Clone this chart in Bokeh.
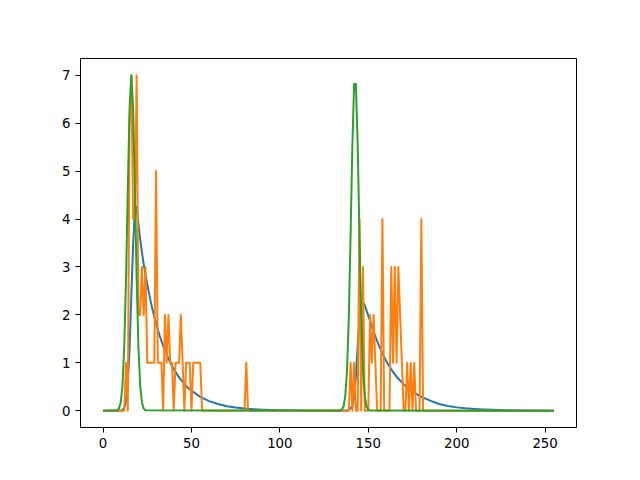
from bokeh.plotting import figure
from bokeh.models import Range1d, FixedTicker
from bokeh.embed import file_html
from bokeh.resources import INLINE

# ---- data ----
blue_x = [0, 10, 11, 12, 13, 14, 15, 16, 17, 18, 19, 20,
          21, 22, 23, 24, 25, 26, 27, 28, 29, 30, 31, 32, 33, 34, 35, 36, 37, 38, 39, 40,
          42, 44, 46, 48, 50,
          55, 60, 65, 70, 75, 80, 85, 90, 95, 100,
          110, 120, 130,
          138, 139, 140, 141, 142, 143, 144, 145, 146, 147, 148, 149, 150, 151, 152, 153,
          154, 155, 156, 157, 158, 159, 160,
          162, 164, 166, 168, 170, 172, 175,
          180, 185, 190, 195, 200, 205, 210, 215, 220,
          230, 240, 255]
blue_y = [0, 0, 0.02, 0.06, 0.2, 0.55, 1.3, 2.4, 3.45, 4.2, 4.25, 3.9,
          3.58, 3.3, 3.06, 2.84, 2.64, 2.45, 2.27, 2.11, 1.96, 1.82, 1.69, 1.57, 1.46, 1.35,
          1.26, 1.17, 1.08, 1.01, 0.93, 0.87,
          0.75, 0.65, 0.56, 0.48, 0.42,
          0.29, 0.20, 0.14, 0.095, 0.066, 0.045, 0.031, 0.022, 0.015, 0.010,
          0.005, 0.002, 0.001,
          0.003, 0.02, 0.05, 0.1, 0.28, 0.72, 1.35, 1.9, 2.2, 2.27, 2.2, 2.09, 1.98, 1.88,
          1.76, 1.65, 1.55, 1.45, 1.36, 1.28, 1.2, 1.12, 1.05,
          0.92, 0.81, 0.71, 0.63, 0.55, 0.48, 0.40,
          0.29, 0.21, 0.14, 0.10, 0.07, 0.05, 0.036, 0.026, 0.019,
          0.010, 0.005, 0.002]

orange_burst1 = [0, 1, 0, 6, 7, 4, 4, 7, 2, 2, 3, 2, 3, 1, 1, 1, 1, 1, 5, 1,
                 1, 1, 0, 2, 1, 2, 1, 1, 0, 1, 1, 1, 2, 1, 0, 1, 1, 1, 0, 1,
                 1, 1, 1, 1, 0]                      # x = 12 .. 56
orange_blip = [0, 1, 0]                              # x = 80 .. 82
orange_burst2 = [0, 0, 1, 0, 1, 0, 0, 4, 0, 3, 0, 0, 0, 2, 1, 2, 1, 0, 0, 0,
                 4, 0, 0, 0, 0, 3, 1, 3, 1, 3, 2, 1, 0, 0, 1, 0, 1, 0, 1, 0,
                 0, 0, 4, 0]                         # x = 138 .. 181
orange_x = [0] + list(range(12, 57)) + [80, 81, 82] + list(range(138, 182)) + [255]
orange_y = [0] + orange_burst1 + orange_blip + orange_burst2 + [0]

green_peak1 = [0.009, 0.044, 0.17, 0.53, 1.34, 2.76, 4.63, 6.31, 7.0, 6.31, 4.63,
               2.76, 1.34, 0.53, 0.17, 0.044, 0.009]  # x = 8 .. 24
green_peak2 = [0.004, 0.021, 0.089, 0.31, 0.86, 1.97, 3.67, 5.55, 6.82, 6.82, 5.55,
               3.67, 1.97, 0.86, 0.31, 0.089, 0.021, 0.004]  # x = 134 .. 151
green_x = [0] + list(range(8, 25)) + list(range(134, 152)) + [255]
green_y = [0] + green_peak1 + green_peak2 + [0]

x_ticks = [0, 50, 100, 150, 200, 250]
y_ticks = [0, 1, 2, 3, 4, 5, 6, 7]

p = figure(width=624, height=464, output_backend="svg", toolbar_location=None,
           x_range=Range1d(-12.75, 267.75), y_range=Range1d(-0.35, 7.35),
           min_border_left=80, min_border_right=48, min_border_top=58, min_border_bottom=37)
p.background_fill_color = "white"
p.border_fill_color = "white"
p.xgrid.visible = False
p.ygrid.visible = False
p.outline_line_color = "black"
p.outline_line_width = 1

for ax in p.axis:
    ax.axis_line_color = None
    ax.major_tick_line_color = "black"
    ax.major_tick_out = 5
    ax.major_tick_in = 0
    ax.minor_tick_line_color = None
    ax.major_label_text_font = "DejaVu Sans"
    ax.major_label_text_font_size = "10pt"
    ax.major_label_text_color = "black"
    ax.major_label_standoff = 5
p.xaxis.ticker = FixedTicker(ticks=x_ticks)
p.yaxis.ticker = FixedTicker(ticks=y_ticks)

p.line(blue_x, blue_y, line_color="#1f77b4", line_width=2, line_join="round")
p.line(orange_x, orange_y, line_color="#ff7f0e", line_width=2, line_join="round")
p.line(green_x, green_y, line_color="#2ca02c", line_width=2, line_join="round")

open("out.html", "w").write(file_html(p, INLINE))
